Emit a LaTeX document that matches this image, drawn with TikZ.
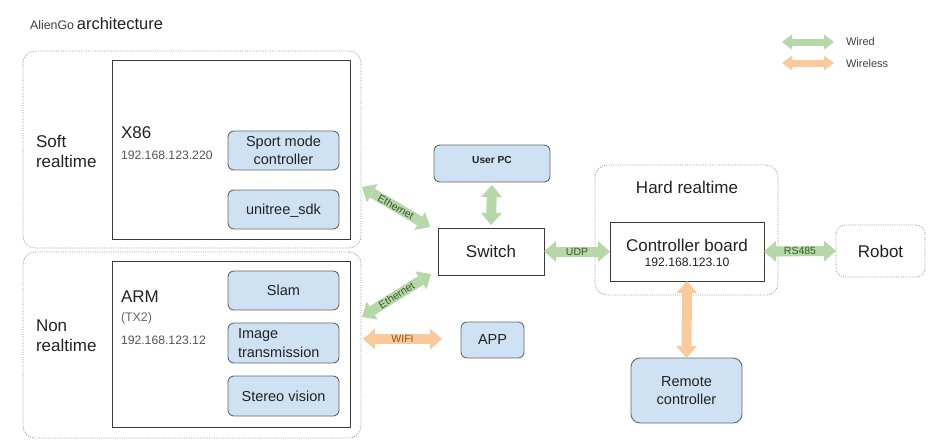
\documentclass[tikz,border=0pt]{standalone}
\usepackage{fontspec}
\setmainfont{Liberation Sans}
\usetikzlibrary{arrows.meta}
\definecolor{bluefill}{HTML}{CFE2F3}
\definecolor{wiredc}{HTML}{B6D7A8}
\definecolor{wirelessc}{HTML}{F9CB9C}
\definecolor{wiredtext}{HTML}{3A5A2C}
\definecolor{wirelesstext}{HTML}{945428}
\definecolor{maintext}{HTML}{222222}
\definecolor{iptext}{HTML}{555555}
\definecolor{dotc}{HTML}{9A9A9A}
\definecolor{boxline}{HTML}{3A3A3A}
\definecolor{swline}{HTML}{666666}
\tikzset{
  bigtip/.tip={Triangle[width=21pt,length=12pt,line width=0pt]},
  smalltip/.tip={Triangle[width=15pt,length=10pt,line width=0pt]},
  grp/.style={draw=dotc, dash pattern=on 1pt off 1.3pt, rounded corners=12pt, line width=0.8pt},
  hw/.style={draw=boxline, line width=0.95pt, fill=white},
  sw/.style={draw=swline, fill=bluefill, rounded corners=6pt, line width=0.9pt,
    font=\fontsize{14.5}{17.5}\selectfont, align=center},
  wired/.style={draw=wiredc, line width=10pt, bigtip-bigtip},
  wireless/.style={draw=wirelessc, line width=10pt, bigtip-bigtip},
  legwired/.style={draw=wiredc, line width=7pt, smalltip-smalltip},
  legwireless/.style={draw=wirelessc, line width=7pt, smalltip-smalltip},
  wlbl/.style={font=\fontsize{10.5}{12}\selectfont, text=wiredtext},
  olbl/.style={font=\fontsize{10.5}{12}\selectfont, text=wirelesstext},
  big/.style={font=\fontsize{17}{20}\selectfont},
  ip/.style={font=\fontsize{12.2}{14}\selectfont, text=iptext},
}
\begin{document}
\begin{tikzpicture}[x=1pt,y=-1pt, every node/.style={inner sep=0pt, outer sep=0pt, text=maintext}]
\useasboundingbox (0,0) rectangle (941,440);

% title
\node[anchor=base west] (title) at (30,29)
  {{\fontsize{12.4}{14}\selectfont\color{black!75}AlienGo} {\fontsize{16.5}{20}\selectfont architecture}};

% legend
\coordinate (lg1a) at (782,42);
\coordinate (lg1b) at (834,42);
\coordinate (lg2a) at (782,63);
\coordinate (lg2b) at (834,63);
\draw[legwired] (lg1a) -- (lg1b);
\draw[legwireless] (lg2a) -- (lg2b);
\node[anchor=base west, font=\fontsize{11}{13}\selectfont, text=black!75] (lgwired) at (846,45) {Wired};
\node[anchor=base west, font=\fontsize{11}{13}\selectfont, text=black!75] (lgwireless) at (846,67) {Wireless};

% group boxes
\node[grp, minimum width=338pt, minimum height=197pt] (soft) at (192,149.5) {};
\node[grp, minimum width=338pt, minimum height=186pt] (nonrt) at (192,345) {};
\node[grp, minimum width=183pt, minimum height=130pt] (hard) at (686.5,230) {};

\node[big, anchor=west, align=left] (softlbl) at (36,151) {Soft\\realtime};
\node[big, anchor=west, align=left] (nonlbl) at (36,335.3) {Non\\realtime};
\node[big, anchor=base] (hardlbl) at (687,193) {Hard realtime};

% X86
\node[hw, minimum width=238pt, minimum height=179pt] (x86) at (231,149.5) {};
\node[big, anchor=base west] (x86lbl) at (121,138.5) {X86};
\node[ip, anchor=base west] (x86ip) at (121,159.5) {192.168.123.220};
\node[sw, minimum width=111pt, minimum height=39pt] (sport) at (283.5,150.5) {Sport mode\\controller};
\node[sw, minimum width=111pt, minimum height=39pt, text depth=0pt] (sdk) at (283.5,209.5) {unitree\_sdk};

% ARM
\node[hw, minimum width=238pt, minimum height=166pt] (arm) at (231,344) {};
\node[big, anchor=base west] (armlbl) at (121,302) {ARM};
\node[font=\fontsize{12.4}{14}\selectfont, text=black!60, anchor=base west] (tx2) at (121,321) {(TX2)};
\node[ip, anchor=base west] (armip) at (121,344) {192.168.123.12};
\node[sw, minimum width=111pt, minimum height=39pt] (slam) at (283.5,290.5) {Slam};
\node[sw, minimum width=111pt, minimum height=40pt, align=left, text width=91pt, inner xsep=10pt,
      font=\fontsize{14.5}{19}\selectfont] (imgtx) at (283.5,343) {Image\\transmission};
\node[sw, minimum width=111pt, minimum height=40pt] (stereo) at (283.5,396) {Stereo vision};

% middle
\node[sw, minimum width=116pt, minimum height=37pt, font=\fontsize{10.2}{12}\selectfont\bfseries, text depth=6.4pt] (userpc) at (492,163.5) {User PC};
\node[hw, minimum width=106pt, minimum height=47pt, font=\fontsize{17}{20}\selectfont] (switch) at (491,251.5) {Switch};
\node[sw, minimum width=63pt, minimum height=36pt] (app) at (492.5,340) {APP};

% right
\node[hw, minimum width=154pt, minimum height=59pt] (ctrl) at (687,251.5) {};
\node[big, anchor=base] (ctrllbl) at (687,251) {Controller board};
\node[font=\fontsize{12.2}{14}\selectfont, anchor=base] (ctrlip) at (687,266) {192.168.123.10};
\node[grp, rounded corners=9pt, minimum width=89pt, minimum height=52pt, font=\fontsize{17}{20}\selectfont] (robot) at (880.5,251) {Robot};
\node[sw, minimum width=111pt, minimum height=65pt, rounded corners=9pt] (remote) at (686.5,390.5) {Remote\\controller};

% connectors
\coordinate (eth1a) at (362,187);
\coordinate (eth1b) at (430,227);
\coordinate (eth2a) at (362,317);
\coordinate (eth2b) at (431,274);
\coordinate (wifia) at (363,339);
\coordinate (wifib) at (442,339);

\draw[wired] (eth1a) -- node[midway, sloped, wlbl] (eth1lbl) {Ethernet} (eth1b);
\draw[wired] (eth2a) -- node[midway, sloped, wlbl] (eth2lbl) {Ethernet} (eth2b);
\draw[wireless] (wifia) -- node[midway, olbl] (wifilbl) {WIFI} (wifib);
\draw[wired, shorten <=3pt, shorten >=3pt] (userpc.south) -- (switch.north);
\draw[wired] (switch.east) -- node[midway, wlbl] (udplbl) {UDP} (ctrl.west);
\draw[wired] (ctrl.east) -- node[midway, wlbl] (rslbl) {RS485} (robot.west);
\draw[wireless] (ctrl.south) -- (remote.north);
\end{tikzpicture}
\end{document}
